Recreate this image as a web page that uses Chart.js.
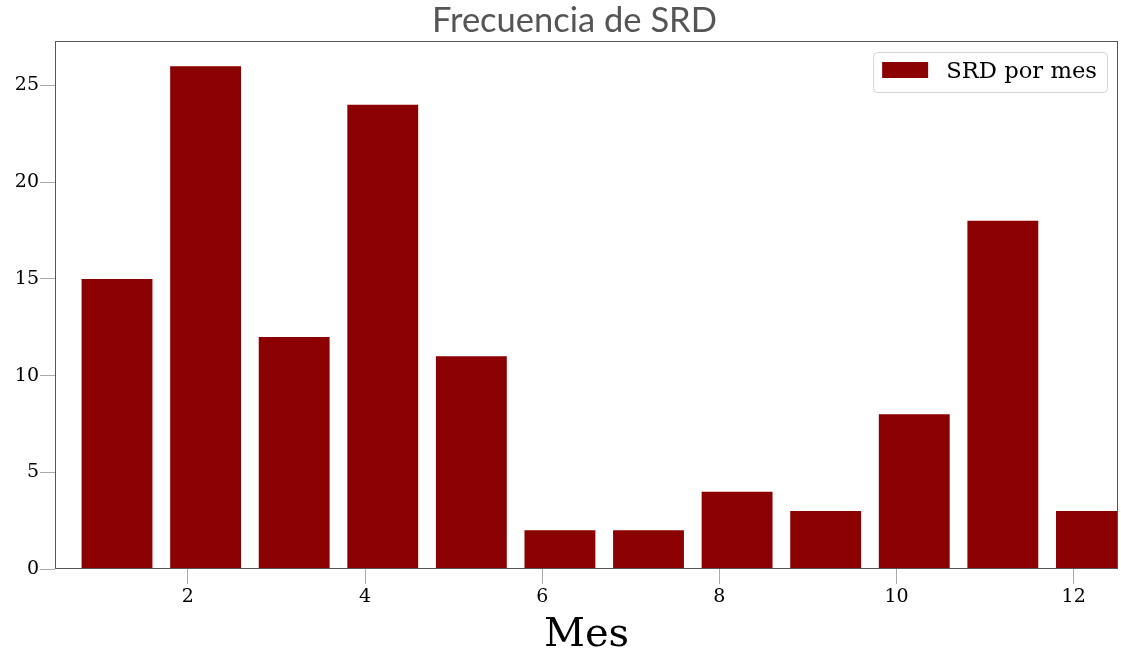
<!DOCTYPE html>
<html>
<head>
<meta charset="utf-8">
<script src="https://cdn.jsdelivr.net/npm/chart.js@4/dist/chart.umd.min.js"></script>
<style>
  html, body { margin: 0; padding: 0; background: #fff; }
  #wrap { width: 1121px; height: 653px; }
</style>
</head>
<body>
<div id="wrap"><canvas id="myChart"></canvas></div>
<script>
// ----------- data ----------- //
const months = [1, 2, 3, 4, 5, 6, 7, 8, 9, 10, 11, 12];
const srdCounts = [15, 26, 12, 24, 11, 2, 2, 4, 3, 8, 18, 3];
const xTicks = [2, 4, 6, 8, 10, 12];
const yTicks = [0, 5, 10, 15, 20, 25];
const seriesLabel = 'SRD por mes';
const chartTitle = 'Frecuencia de SRD';

const BAR_COLOR = '#8b0000';
const SPINE_COLOR = '#555';
const SERIF = '"DejaVu Serif", serif';

// bars sit from m-0.2 to m+0.6 (width 0.8), so the centre is m+0.2
const barData = months.map((m, i) => ({ x: m + 0.2, y: srdCounts[i] }));

// ----------- plugins ----------- //
const frame = {
    id: 'frame',
    afterDatasetsDraw(chart) {
        const { ctx, chartArea: a } = chart;
        ctx.save();
        ctx.strokeStyle = SPINE_COLOR;
        ctx.lineWidth = 1;
        ctx.strokeRect(Math.round(a.left) + 0.5, Math.round(a.top) + 0.5,
            Math.round(a.right - a.left) - 1, Math.round(a.bottom - a.top) - 1);
        ctx.restore();
    }
};

// title sits a little right of the canvas middle, like the figure suptitle
const figTitle = {
    id: 'figTitle',
    afterDraw(chart) {
        const ctx = chart.ctx;
        ctx.save();
        ctx.font = '34.5px Lato';
        ctx.fillStyle = '#555';
        ctx.textAlign = 'center';
        ctx.textBaseline = 'alphabetic';
        ctx.fillText(chartTitle, chart.width / 2 + 14, 32);
        ctx.restore();
    }
};

// matplotlib-ish legend box in the upper right corner
const boxLegend = {
    id: 'boxLegend',
    afterDraw(chart) {
        const { ctx, chartArea: a } = chart;
        const ds = chart.data.datasets[0];
        ctx.save();
        ctx.font = '22.7px ' + SERIF;
        const tw = ctx.measureText(ds.label).width;
        const w = 9 + 46 + 18 + tw + 10, h = 40;
        const x = a.right - 11 - w, y = a.top + 11;
        ctx.beginPath();
        ctx.roundRect(x + 0.5, y + 0.5, w, h, 4);
        ctx.fillStyle = 'rgba(255,255,255,0.8)';
        ctx.fill();
        ctx.strokeStyle = '#d5d5d5';
        ctx.lineWidth = 1;
        ctx.stroke();
        ctx.fillStyle = ds.backgroundColor;
        ctx.fillRect(x + 9, y + 10, 46, 16);
        ctx.fillStyle = '#000';
        ctx.textBaseline = 'middle';
        ctx.fillText(ds.label, x + 9 + 46 + 18, y + h / 2);
        ctx.restore();
    }
};

// ----------- chart ----------- //
const ctx = document.getElementById('myChart');
const chart = new Chart(ctx, {
    type: 'bar',
    data: {
        datasets: [{
            label: seriesLabel,
            data: barData,
            backgroundColor: BAR_COLOR,
            borderWidth: 0,
            barPercentage: 0.8,
            categoryPercentage: 1.0
        }]
    },
    options: {
        responsive: true,
        maintainAspectRatio: false,
        animation: false,
        layout: { padding: { left: 0, right: 3, top: 41, bottom: 0 } },
        plugins: {
            legend: { display: false },
            tooltip: { enabled: false },
            title: { display: false }
        },
        scales: {
            x: {
                type: 'linear',
                min: 0.5,
                max: 12.5,
                offset: false,
                afterBuildTicks: s => { s.ticks = xTicks.map(v => ({ value: v })); },
                afterFit: s => { s.height = 84; },
                ticks: {
                    color: '#000',
                    font: { family: SERIF, size: 19 },
                    padding: 2,
                    maxRotation: 0
                },
                grid: { offset: false, drawOnChartArea: false, drawTicks: true, tickLength: 15, color: '#aaa' },
                border: { display: false },
                title: {
                    display: true,
                    text: 'Mes',
                    color: '#000',
                    font: { family: SERIF, size: 40, lineHeight: 0.85 },
                    padding: 0
                }
            },
            y: {
                min: 0,
                max: 27.3,
                afterBuildTicks: s => { s.ticks = yTicks.map(v => ({ value: v })); },
                afterFit: s => { s.width = 55; },
                ticks: {
                    color: '#000',
                    font: { family: SERIF, size: 19 },
                    padding: 1
                },
                grid: { drawOnChartArea: false, drawTicks: true, tickLength: 15, color: '#aaa' },
                border: { display: false }
            }
        }
    },
    plugins: [frame, figTitle, boxLegend]
});
</script>
</body>
</html>
